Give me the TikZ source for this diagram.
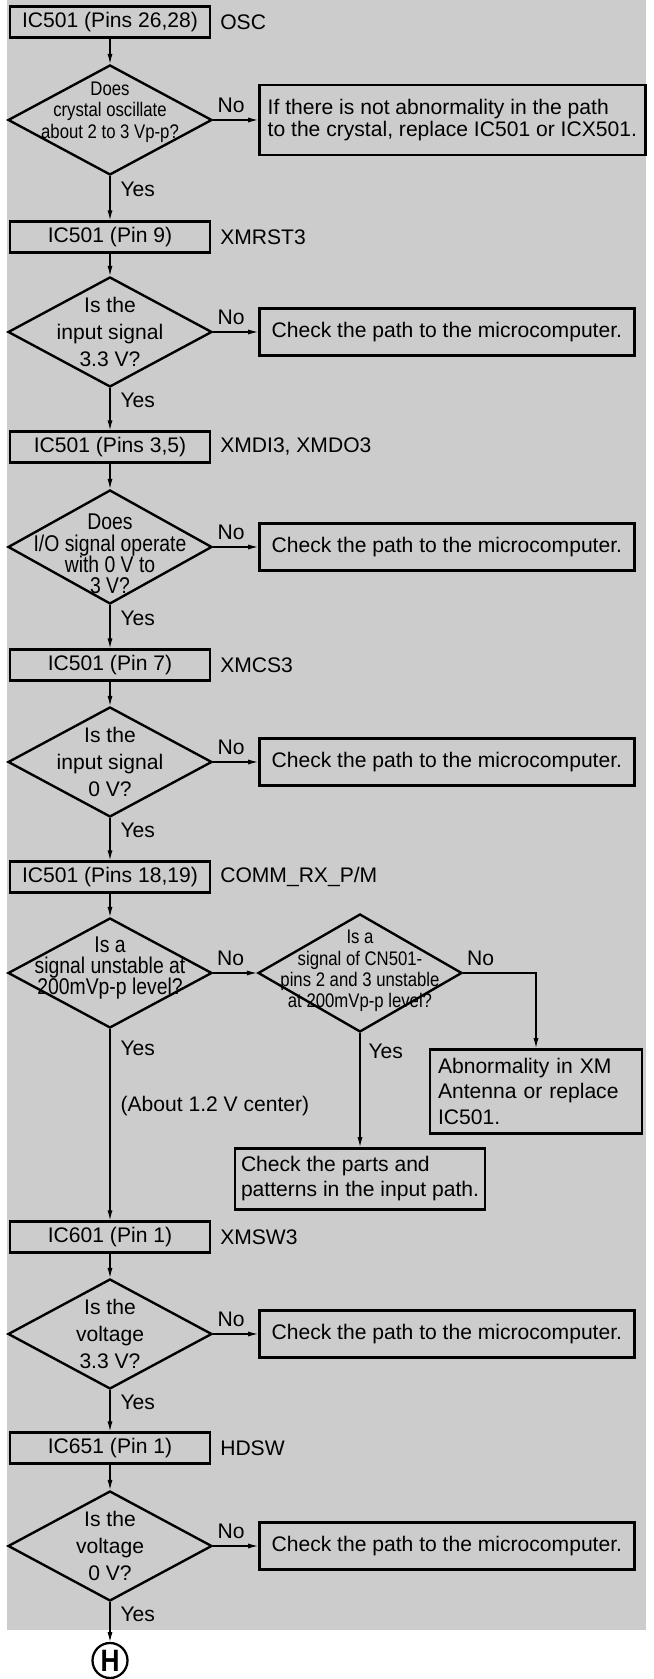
\documentclass[tikz,border=0pt]{standalone}
\usepackage{fontspec}
\setmainfont{Liberation Sans}
\newfontfamily\narrowfont{Liberation Sans}[FakeStretch=0.85]
\usepackage{xcolor}
\usepackage{tikz}
\usetikzlibrary{arrows.meta,shapes.geometric}
\definecolor{panelgray}{HTML}{CCCCCC}
\tikzset{
  line/.style={draw=black, -{Latex[length=7pt,width=3.6pt]}, line width=0.8pt},
  pinbox/.style={
    draw=black,
    line width=1.9pt,
    minimum width=5cm,
    minimum height=0.77cm,
    inner sep=0pt,
    font=\fontsize{15}{16}\selectfont
  },
  decision/.style={
    draw=black,
    diamond,
    line width=1.7pt,
    minimum width=5.1cm,
    minimum height=2.75cm,
    inner sep=0pt
  },
  qtext/.style={align=center, inner sep=0pt, font=\fontsize{15}{19}\selectfont},
  qsmall/.style={align=center, inner sep=0pt, font=\narrowfont\fontsize{14}{15.2}\selectfont},
  qnarrow/.style={align=center, inner sep=0pt, font=\narrowfont\fontsize{16.2}{15.2}\selectfont},
  fixbox/.style={
    draw=black,
    line width=1.9pt,
    anchor=west,
    minimum width=9.375cm,
    minimum height=1.175cm,
    inner sep=0pt,
    font=\fontsize{15}{16}\selectfont
  },
  notebox/.style={
    draw=black,
    line width=1.9pt,
    align=left,
    inner sep=0pt
  },
  lbl/.style={inner sep=0pt, font=\fontsize{15}{16}\selectfont},
  sig/.style={anchor=west, inner sep=0pt, font=\fontsize{15}{16}\selectfont}
}

\begin{document}
\begin{tikzpicture}[x=1cm,y=1cm]
  \path[use as bounding box] (0,0) rectangle (16.35,41.975);
  \fill[panelgray] (0.175,1.225) rectangle (16.15,41.975);

  % main column
  \node[pinbox] (oscpin) at (2.75,41.42) {IC501 (Pins 26,28)};
  \node[sig] (oscsig) at (5.5,41.42) {OSC};
  \node[decision] (oscq) at (2.75,38.975) {};
  \node[qsmall] (oscqt) at (2.75,39.175) {Does\\crystal oscillate\\about 2 to 3 Vp-p?};
  \node[notebox, anchor=west, minimum width=9.65cm, minimum height=1.75cm,
    font=\fontsize{15}{15.6}\selectfont] (oscfix) at (6.45,38.975)
    {If there is not abnormality in the path\\to the crystal, replace IC501 or ICX501.};

  \node[pinbox] (rstpin) at (2.75,36.05) {IC501 (Pin 9)};
  \node[sig] (rstsig) at (5.5,36.05) {XMRST3};
  \node[decision] (rstq) at (2.75,33.675) {};
  \node[qtext] (rstqt) at (2.75,33.675) {Is the\\input signal\\3.3 V?};
  \node[fixbox] (rstfix) at (6.45,33.675) {Check the path to the microcomputer.};

  \node[pinbox] (iopin) at (2.75,30.8) {IC501 (Pins 3,5)};
  \node[sig] (iosig) at (5.5,30.8) {XMDI3, XMDO3};
  \node[decision, minimum height=2.85cm] (ioq) at (2.75,28.3) {};
  \node[qnarrow] (ioqt) at (2.75,28.125) {Does\\I/O signal operate\\with 0 V to\\3 V?};
  \node[fixbox] (iofix) at (6.45,28.3) {Check the path to the microcomputer.};

  \node[pinbox] (cspin) at (2.75,25.35) {IC501 (Pin 7)};
  \node[sig] (cssig) at (5.5,25.35) {XMCS3};
  \node[decision] (csq) at (2.75,22.925) {};
  \node[qtext] (csqt) at (2.75,22.925) {Is the\\input signal\\0 V?};
  \node[fixbox] (csfix) at (6.45,22.925) {Check the path to the microcomputer.};

  \node[pinbox] (rxpin) at (2.75,20.05) {IC501 (Pins 18,19)};
  \node[sig] (rxsig) at (5.5,20.05) {COMM\_RX\_P/M};
  \node[decision] (rxq) at (2.75,17.65) {};
  \node[qnarrow] (rxqt) at (2.75,17.775) {Is a\\signal unstable at\\200mVp-p level?};
  \node[decision, minimum height=2.95cm] (cnq) at (9.0,17.65) {};
  \node[qsmall] (cnqt) at (9.0,17.7) {Is a\\signal of CN501-\\pins 2 and 3 unstable\\at 200mVp-p level?};
  \node[notebox, anchor=north, text width=4.9cm, inner xsep=0.2cm, minimum height=2.1cm,
    font=\fontsize{15}{18.1}\selectfont] (antfix) at (13.4,15.775)
    {Abnormality in XM\\Antenna or replace\\IC501.};
  \node[notebox, anchor=north, minimum width=6.25cm, minimum height=1.525cm,
    font=\fontsize{15}{17.7}\selectfont] (partsfix) at (9.0,13.3)
    {Check the parts and\\patterns in the input path.};

  \node[pinbox] (swpin) at (2.75,11.05) {IC601 (Pin 1)};
  \node[sig] (swsig) at (5.5,11.05) {XMSW3};
  \node[decision] (swq) at (2.75,8.625) {};
  \node[qtext] (swqt) at (2.75,8.625) {Is the\\voltage\\3.3 V?};
  \node[fixbox] (swfix) at (6.45,8.625) {Check the path to the microcomputer.};

  \node[pinbox] (hdpin) at (2.75,5.775) {IC651 (Pin 1)};
  \node[sig] (hdsig) at (5.5,5.775) {HDSW};
  \node[decision] (hdq) at (2.75,3.325) {};
  \node[qtext] (hdqt) at (2.75,3.325) {Is the\\voltage\\0 V?};
  \node[fixbox] (hdfix) at (6.45,3.325) {Check the path to the microcomputer.};

  \node[draw=black, circle, line width=1.6pt, minimum size=0.875cm, inner sep=0pt,
    font=\narrowfont\bfseries\fontsize{22}{22}\selectfont] (toH) at (2.75,0.4625) {H};

  % connectors
  \draw[line] (oscpin) -- (oscq);
  \draw[line] (oscq) -- node[lbl, above=5pt, pos=0.4] (oscno) {No} (oscfix);
  \draw[line] (oscq) -- node[lbl, right=2.5mm, pos=0.3] (oscyes) {Yes} (rstpin);
  \draw[line] (rstpin) -- (rstq);
  \draw[line] (rstq) -- node[lbl, above=5pt, pos=0.4] (rstno) {No} (rstfix);
  \draw[line] (rstq) -- node[lbl, right=2.5mm, pos=0.3] (rstyes) {Yes} (iopin);
  \draw[line] (iopin) -- (ioq);
  \draw[line] (ioq) -- node[lbl, above=5pt, pos=0.4] (iono) {No} (iofix);
  \draw[line] (ioq) -- node[lbl, right=2.5mm, pos=0.3] (ioyes) {Yes} (cspin);
  \draw[line] (cspin) -- (csq);
  \draw[line] (csq) -- node[lbl, above=5pt, pos=0.4] (csno) {No} (csfix);
  \draw[line] (csq) -- node[lbl, right=2.5mm, pos=0.3] (csyes) {Yes} (rxpin);
  \draw[line] (rxpin) -- (rxq);
  \draw[line] (rxq) -- node[lbl, above=5pt, pos=0.4] (rxno) {No} (cnq);
  \draw[line] (rxq) -- node[lbl, right=2.5mm, pos=0.1] (rxyes) {Yes}
    node[lbl, right=2.5mm, pos=0.4] (rxlevel) {(About 1.2 V center)} (swpin);
  \draw[line] (cnq.east) -| node[lbl, above=5pt, pos=0.12] (cnno) {No} (antfix.north);
  \draw[line] (cnq) -- node[lbl, right=2mm, pos=0.16] (cnyes) {Yes} (partsfix);
  \draw[line] (swpin) -- (swq);
  \draw[line] (swq) -- node[lbl, above=5pt, pos=0.4] (swno) {No} (swfix);
  \draw[line] (swq) -- node[lbl, right=2.5mm, pos=0.3] (swyes) {Yes} (hdpin);
  \draw[line] (hdpin) -- (hdq);
  \draw[line] (hdq) -- node[lbl, above=5pt, pos=0.4] (hdno) {No} (hdfix);
  \draw[line] (hdq) -- node[lbl, right=2.5mm, pos=0.3] (hdyes) {Yes} (toH);
\end{tikzpicture}
\end{document}
